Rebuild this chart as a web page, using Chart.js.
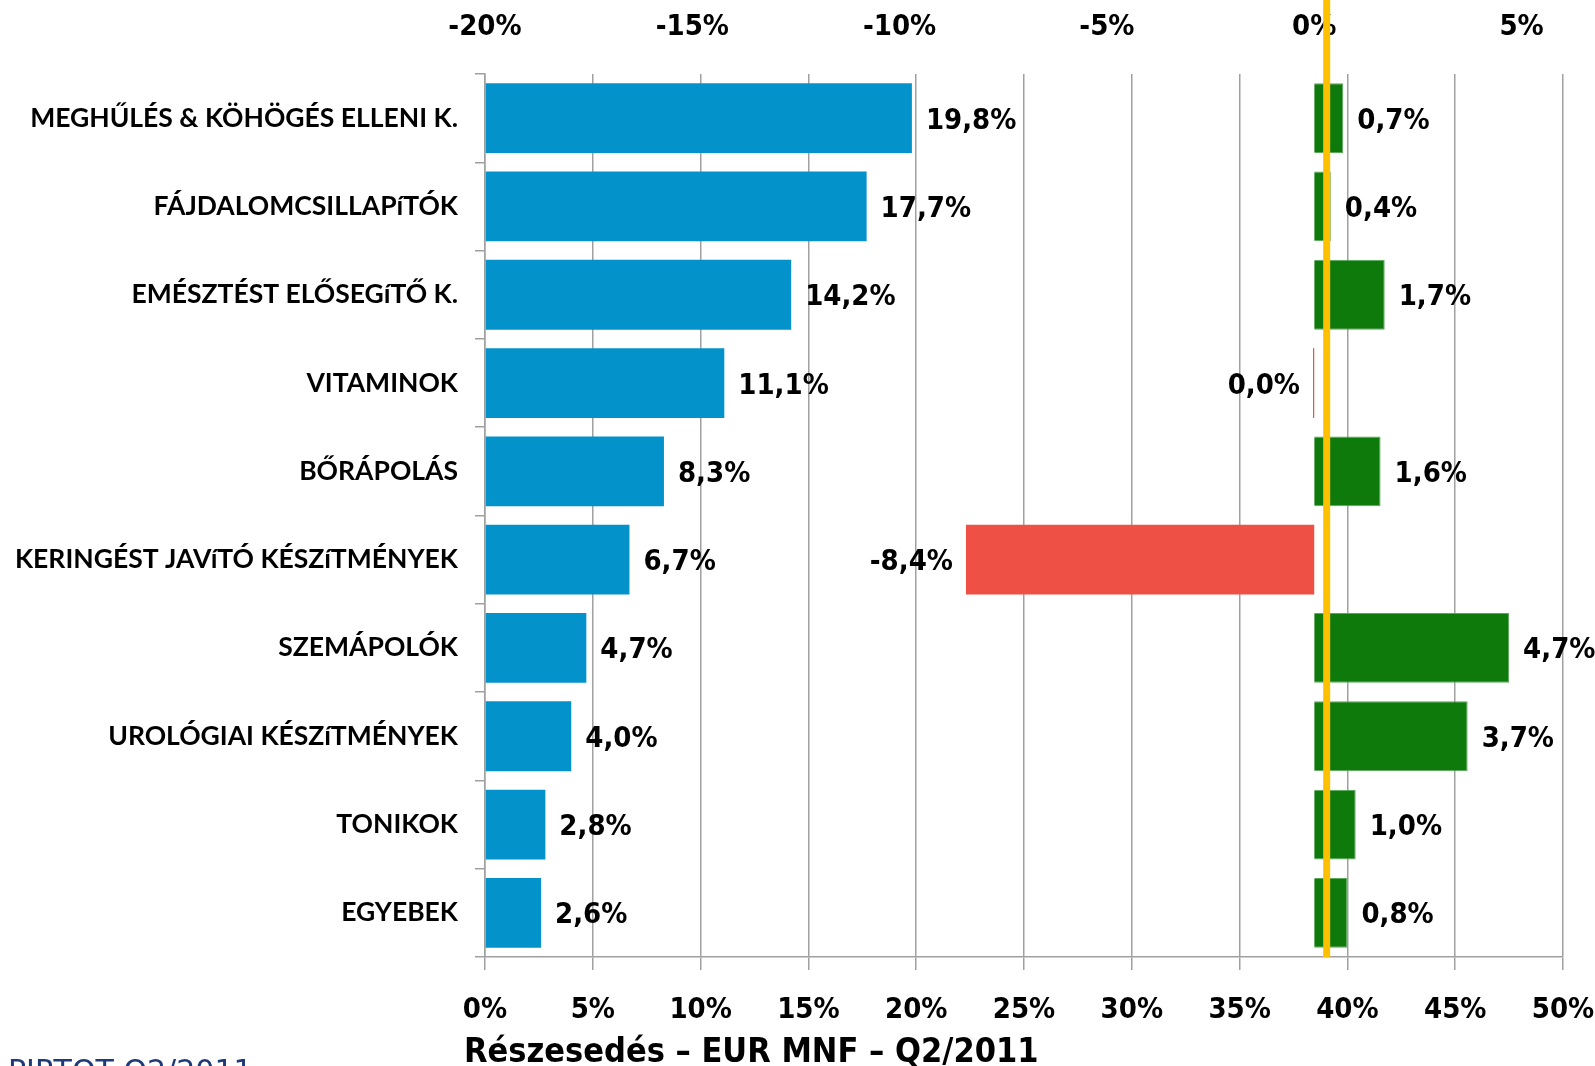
<!DOCTYPE html>
<html lang="hu">
<head>
<meta charset="utf-8">
<title>Részesedés – EUR MNF – Q2/2011</title>
<script src="https://cdn.jsdelivr.net/npm/chart.js@4.4.1/dist/chart.umd.min.js"></script>
<style>
  html, body { margin: 0; padding: 0; background: #fff; }
  canvas { display: block; }
</style>
</head>
<body>
<canvas id="chart" width="1595" height="1066"></canvas>
<script>
const categories = [
  'MEGHŰLÉS & KÖHÖGÉS ELLENI K.',
  'FÁJDALOMCSILLAPíTÓK',
  'EMÉSZTÉST ELŐSEGíTŐ K.',
  'VITAMINOK',
  'BŐRÁPOLÁS',
  'KERINGÉST JAVíTÓ KÉSZíTMÉNYEK',
  'SZEMÁPOLÓK',
  'UROLÓGIAI KÉSZíTMÉNYEK',
  'TONIKOK',
  'EGYEBEK'
];
// share of market (bottom axis)
const shareValues = [19.8, 17.7, 14.2, 11.1, 8.3, 6.7, 4.7, 4.0, 2.8, 2.6];
// growth vs. previous year (top axis); vitamins is a hair below zero
const growthValues = [0.7, 0.4, 1.7, -0.03, 1.6, -8.4, 4.7, 3.7, 1.0, 0.8];
// market average growth, the orange line
const marketGrowth = 0.3;

const shareTicks = [0, 5, 10, 15, 20, 25, 30, 35, 40, 45, 50];
const growthTicks = [-20, -15, -10, -5, 0, 5];

const axisTitle = 'Részesedés – EUR MNF – Q2/2011';
const sourceNote = 'PIRTOT Q2/2011';

const BLUE = '#0392c9';
const GREEN = '#0f7a0c';
const RED = '#ee5046';
const ORANGE = '#ffc000';
const GRID = '#a0a0a0';

const numFamily = '"Liberation Sans Narrow", "DejaVu Sans Condensed", "Liberation Sans", sans-serif';
const numFont = { family: numFamily, weight: 'bold', size: 29 };
const catFont = { family: 'Lato, "Liberation Sans", sans-serif', weight: 'bold', size: 26.5 };

function formatPct(v) {
  const s = Math.abs(v) < 0.05 ? 0 : v;
  return s.toFixed(1).replace('.', ',') + '%';
}

const valueLabels = {
  id: 'valueLabels',
  afterDatasetsDraw(chart) {
    const ctx = chart.ctx;
    ctx.save();
    ctx.font = `bold ${numFont.size}px ${numFamily}`;
    ctx.fillStyle = '#000';
    ctx.textBaseline = 'middle';
    chart.data.datasets.forEach((ds, di) => {
      const meta = chart.getDatasetMeta(di);
      meta.data.forEach((bar, i) => {
        const v = ds.data[i];
        if (v >= 0) {
          ctx.textAlign = 'left';
          ctx.fillText(formatPct(v), Math.max(bar.x, bar.base) + 14, bar.y + 3);
        } else {
          ctx.textAlign = 'right';
          ctx.fillText(formatPct(v), Math.min(bar.x, bar.base) - 13, bar.y + 3);
        }
      });
    });
    ctx.restore();
  }
};

const extras = {
  id: 'extras',
  afterDraw(chart) {
    const ctx = chart.ctx;
    const area = chart.chartArea;
    const x = chart.scales.x2.getPixelForValue(marketGrowth);
    ctx.save();
    ctx.strokeStyle = ORANGE;
    ctx.lineWidth = 7;
    ctx.beginPath();
    ctx.moveTo(x, 0);
    ctx.lineTo(x, area.bottom);
    ctx.stroke();

    ctx.fillStyle = '#000';
    ctx.textAlign = 'left';
    ctx.textBaseline = 'middle';
    ctx.font = `bold 34px ${numFamily}`;
    ctx.fillText(axisTitle, area.left - 21, 1053);

    ctx.fillStyle = '#1f3a78';
    ctx.textBaseline = 'alphabetic';
    ctx.font = '30px "DejaVu Sans", sans-serif';
    ctx.fillText(sourceNote, 8, 1081);
    ctx.restore();
  }
};

function noSidePadding(s) {
  s.paddingLeft = 0;
  s.paddingRight = 0;
}

new Chart(document.getElementById('chart'), {
  type: 'bar',
  data: {
    labels: categories,
    datasets: [
      {
        label: 'Részesedés',
        data: shareValues,
        xAxisID: 'x',
        backgroundColor: BLUE,
        grouped: false,
        barPercentage: 0.79,
        categoryPercentage: 1
      },
      {
        label: 'Növekedés',
        data: growthValues,
        xAxisID: 'x2',
        backgroundColor: growthValues.map(v => v < 0 ? RED : GREEN),
        borderColor: growthValues.map(v => v < 0 ? RED : '#5aa85a'),
        borderWidth: growthValues.map(v => v < 0 ? 0 : 1),
        grouped: false,
        barPercentage: 0.79,
        categoryPercentage: 1
      }
    ]
  },
  options: {
    indexAxis: 'y',
    responsive: false,
    animation: false,
    layout: { padding: { left: 0, right: 32, top: 0, bottom: 0 } },
    plugins: {
      legend: { display: false },
      tooltip: { enabled: false }
    },
    scales: {
      y: {
        position: 'left',
        grid: { drawOnChartArea: false, tickLength: 10, color: GRID, lineWidth: 1.5 },
        border: { color: GRID, width: 1.5 },
        ticks: { padding: 17, color: '#000', font: catFont },
        afterFit: s => { s.width = 485; }
      },
      x: {
        position: 'bottom',
        min: 0,
        max: 50,
        afterBuildTicks: s => { s.ticks = shareTicks.map(v => ({ value: v })); },
        grid: { color: GRID, lineWidth: 1.5, tickLength: 13 },
        border: { color: GRID, width: 1.5 },
        ticks: { padding: 23, color: '#000', font: numFont, maxRotation: 0, callback: v => v + '%' },
        afterFit: s => { s.height = 109; noSidePadding(s); }
      },
      x2: {
        position: 'top',
        min: -20,
        max: 6,
        afterBuildTicks: s => { s.ticks = growthTicks.map(v => ({ value: v })); },
        grid: { display: false, drawTicks: false },
        border: { display: false },
        ticks: { padding: 29, color: '#000', font: numFont, maxRotation: 0, callback: v => v + '%' },
        afterFit: s => { s.height = 74; noSidePadding(s); }
      }
    }
  },
  plugins: [valueLabels, extras]
});
</script>
</body>
</html>
